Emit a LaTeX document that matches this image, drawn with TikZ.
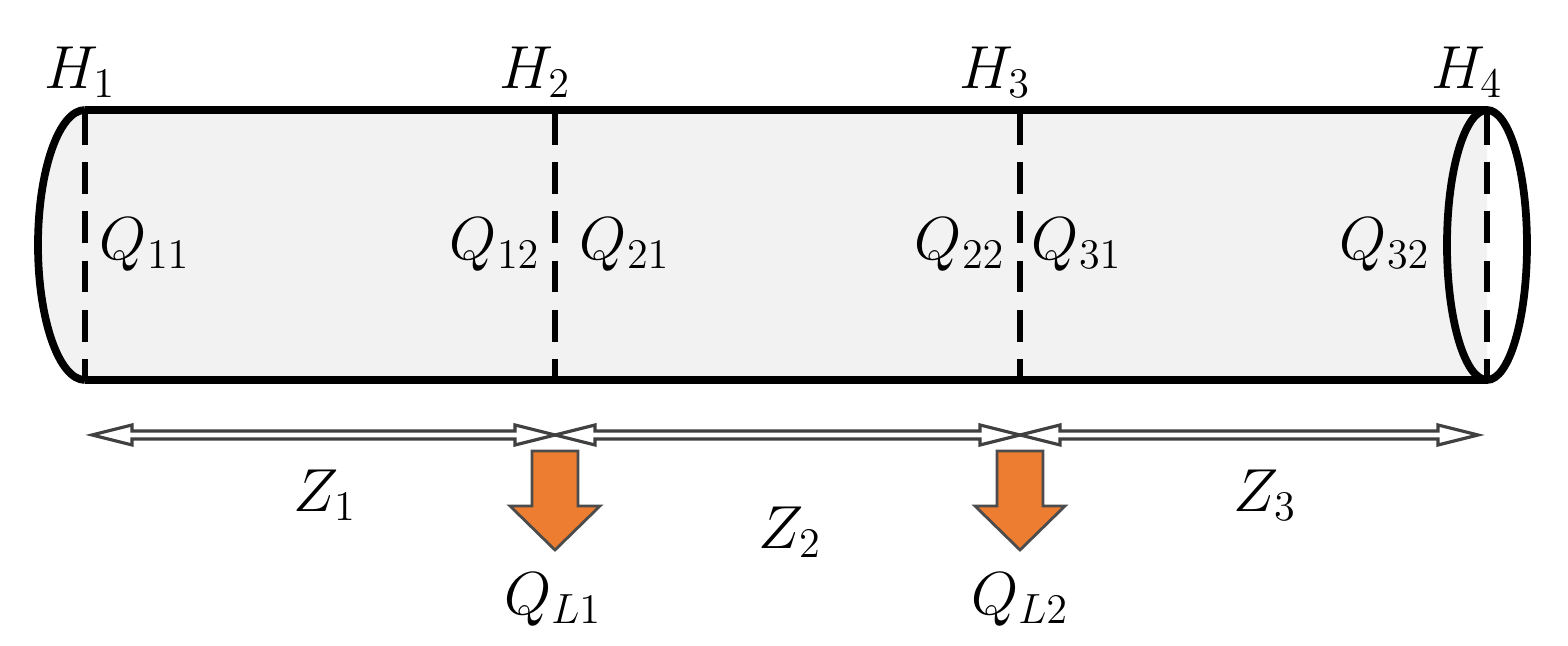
\documentclass[tikz,border=0pt]{standalone}
\usetikzlibrary{positioning}
\definecolor{pipegray}{RGB}{242,242,242}
\definecolor{leakorange}{RGB}{237,125,49}
\newcommand{\lbl}[2]{$#1_{#2}$}
\tikzset{
  lab/.style={font=\fontsize{18}{21}\selectfont, inner sep=1pt},
  sec/.style={line width=1.6pt, dash pattern=on 9pt off 5pt},
  pipe/.style={line width=2.2pt},
  span/.style={draw=black!75, line width=0.9pt, fill=white},
  leak/.style={draw=black!70, line width=0.8pt, fill=leakorange}
}
% double-headed span arrow from x=#1 to x=#2 at height 435
\newcommand{\spanarrow}[2]{%
  \draw[span] (#1,435) -- (#1+40,425) -- (#1+40,431) -- (#2-40,431) -- (#2-40,425)
    -- (#2,435) -- (#2-40,445) -- (#2-40,439) -- (#1+40,439) -- (#1+40,445) -- cycle;}
% leakage arrow centred on x=#1
\newcommand{\leakarrow}[1]{%
  \draw[leak] (#1-23,451) -- (#1+23,451) -- (#1+23,506) -- (#1+45,506) -- (#1,550)
    -- (#1-45,506) -- (#1-23,506) -- cycle;}
\begin{document}
\begin{tikzpicture}[x=0.01cm, y=-0.01cm]
  \useasboundingbox (0,0) rectangle (1568,646);
  % pipe body
  \fill[pipegray] (85,110) -- (1487,110) -- (1487,380) -- (85,380)
    arc[start angle=90, end angle=270, x radius=47, y radius=135] -- cycle;
  \draw[pipe] (85,110) -- (1487,110);
  \draw[pipe] (85,380) -- (1487,380);
  \draw[pipe] (85,110) arc[start angle=270, end angle=90, x radius=47, y radius=135];
  \draw[pipe] (1487,245) ellipse[x radius=40, y radius=135];
  % section lines
  \foreach \x in {85,555,1020,1487}
    \draw[sec] (\x,113) -- (\x,378);
  % heads
  \node[lab] (H1) at (80,72) {\lbl{H}{1}};
  \node[lab] (H2) at (535,72) {\lbl{H}{2}};
  \node[lab] (H3) at (995,72) {\lbl{H}{3}};
  \node[lab] (H4) at (1467,72) {\lbl{H}{4}};
  % flows
  \node[lab] (Q11) at (145,245) {\lbl{Q}{11}};
  \node[lab] (Q12) at (495,245) {\lbl{Q}{12}};
  \node[lab] (Q21) at (625,245) {\lbl{Q}{21}};
  \node[lab] (Q22) at (960,245) {\lbl{Q}{22}};
  \node[lab] (Q31) at (1077,245) {\lbl{Q}{31}};
  \node[lab] (Q32) at (1385,245) {\lbl{Q}{32}};
  % spans
  \spanarrow{92}{555}
  \spanarrow{555}{1020}
  \spanarrow{1020}{1478}
  \node[lab] (Z1) at (325,495) {\lbl{Z}{1}};
  \node[lab] (Z2) at (790,532) {\lbl{Z}{2}};
  \node[lab] (Z3) at (1265,495) {\lbl{Z}{3}};
  % leakages
  \leakarrow{555}
  \leakarrow{1020}
  \node[lab] (QL1) at (553,600) {\lbl{Q}{L1}};
  \node[lab] (QL2) at (1020,600) {\lbl{Q}{L2}};
\end{tikzpicture}
\end{document}
